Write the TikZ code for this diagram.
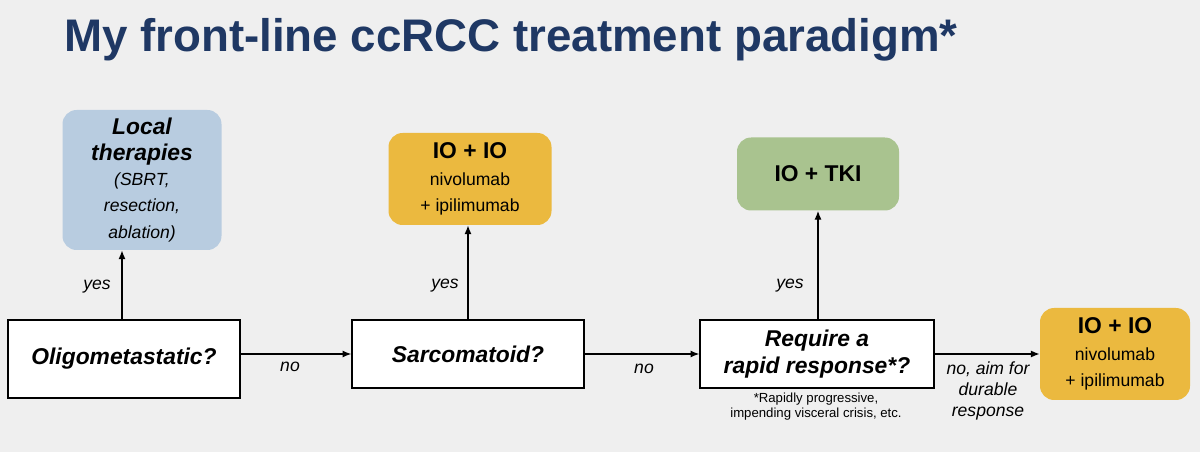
\documentclass[tikz,border=0pt]{standalone}
\usepackage{fontspec}
\setmainfont{Liberation Sans}
\usetikzlibrary{arrows.meta}
\definecolor{bg}{HTML}{EFEFEF}
\definecolor{navy}{HTML}{1F3864}
\definecolor{bluebox}{HTML}{B8CCE0}
\definecolor{orangebox}{HTML}{EBB93F}
\definecolor{greenbox}{HTML}{A9C38F}
\newcommand{\bigbf}{\fontsize{13}{15}\selectfont\bfseries}
\newcommand{\smalln}{\fontsize{10}{12}\selectfont\mdseries\upshape}
\begin{document}
\begin{tikzpicture}[x=0.02cm,y=-0.02cm,
  res/.style={rounded corners=8pt,draw=none,align=center,inner sep=2pt},
  q/.style={draw=black,line width=0.8pt,fill=white,align=center,font=\fontsize{13}{15}\selectfont\bfseries\itshape},
  arr/.style={-{Latex[length=5pt,width=4pt]},line width=0.7pt},
  lab/.style={font=\fontsize{10}{12}\selectfont\itshape,align=center}]
\fill[bg] (0,0) rectangle (1200,452);
\useasboundingbox (0,0) rectangle (1200,452);
\node[anchor=base west,text=navy,font=\fontsize{26}{30}\selectfont\bfseries] (title) at (58,52) {My front-line ccRCC treatment paradigm*};
% questions
\node[q,minimum width=232*0.02cm,minimum height=78*0.02cm] (oligo) at (124,359) {Oligometastatic?};
\node[q,minimum width=232*0.02cm,minimum height=68*0.02cm] (sarc) at (468,354) {Sarcomatoid?};
\node[q,minimum width=234*0.02cm,minimum height=68*0.02cm] (req) at (817,354) {Require a\\rapid response*?};
% results
\node[res,fill=bluebox,minimum width=159*0.02cm,minimum height=140*0.02cm,font=\bigbf\itshape] (local) at (142,180)
 {Local\\therapies\\[-1pt]\fontsize{10}{11.5}\selectfont\mdseries (SBRT,\\\fontsize{10}{11.5}\selectfont\mdseries resection,\\\fontsize{10}{11.5}\selectfont\mdseries ablation)};
\node[res,fill=orangebox,minimum width=163*0.02cm,minimum height=92*0.02cm,font=\bigbf] (io1) at (470,179)
 {IO + IO\\\smalln nivolumab\\\smalln + ipilimumab};
\node[res,fill=greenbox,minimum width=162*0.02cm,minimum height=73*0.02cm,font=\bigbf] (tki) at (818,174)
 {IO + TKI};
\node[res,fill=orangebox,minimum width=150*0.02cm,minimum height=92*0.02cm,font=\bigbf] (io2) at (1115,354)
 {IO + IO\\\smalln nivolumab\\\smalln + ipilimumab};
% arrows
\coordinate (a1) at (122,0);
\draw[arr] (a1 |- oligo.north) -- (a1 |- local.south);
\draw[arr] (sarc.north) -- (sarc.north |- io1.south);
\draw[arr] (tki.south |- req.north) -- (tki.south);
\draw[arr] (sarc.west -| oligo.east) -- (sarc.west);
\draw[arr] (sarc.east) -- (req.west);
\draw[arr] (req.east) -- (io2.west);
% labels
\node[lab] (y1) at (97,287) {yes};
\node[lab] (y2) at (445,286) {yes};
\node[lab] (y3) at (790,286) {yes};
\node[lab] (n1) at (290,367) {no};
\node[lab] (n2) at (644,369) {no};
\node[lab] (n3) at (988,391) {no, aim for\\durable\\response};
\node[align=center,font=\fontsize{7.5}{8.5}\selectfont] (fn) at (816,407) {*Rapidly progressive,\\impending visceral crisis, etc.};
\end{tikzpicture}
\end{document}
